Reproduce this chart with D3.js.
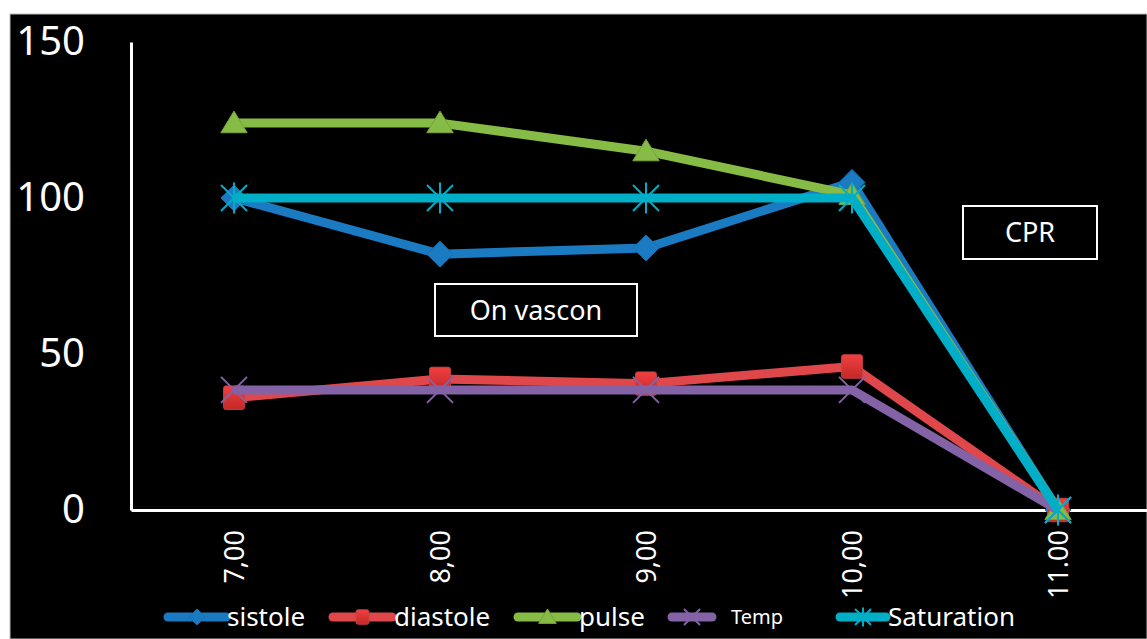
<!DOCTYPE html>
<html>
<head>
<meta charset="utf-8">
<script src="https://cdn.jsdelivr.net/npm/d3@7"></script>
<style>
  body { margin: 0; background: #fff; }
  svg { display: block; }
  text { font-family: "Noto Sans", "Open Sans", sans-serif; fill: #fff; }
</style>
</head>
<body>
<div id="chart"></div>
<script>
// chart data
const times = ["7,00", "8,00", "9,00", "10,00", "11.00"];
const seriesNames = ["sistole", "diastole", "pulse", "Temp", "Saturation"];
const sistole = [100, 82, 84, 105, 0];
const diastole = [36, 42, 40.5, 46, 0];
const pulse = [124, 124, 115, 101, 0];
const temp = [38.5, 38.5, 38.5, 38.5, 0];
const saturation = [100, 100, 100, 100, 0];
const yTicks = [0, 50, 100, 150];
const notes = [
  { label: "On vascon", x0: 435, y0: 284, x1: 637, y1: 336 },
  { label: "CPR", x0: 963, y0: 206, x1: 1097, y1: 259 }
];

const W = 1147, H = 639;
const colors = {
  sistole: "#1b7bc2",
  diastole: "#e0474a",
  pulse: "#86bc45",
  Temp: "#8462a6",
  Saturation: "#00aec8"
};
const markers = {
  sistole: "diamond",
  diastole: "square",
  pulse: "triangle",
  Temp: "x",
  Saturation: "star"
};

const series = [sistole, diastole, pulse, temp, saturation].map((vals, i) => ({
  name: seriesNames[i],
  values: vals.map((v, j) => ({ t: times[j], v: v }))
}));

const svg = d3.select("#chart").append("svg")
  .attr("width", W).attr("height", H);

// black panel with small white margin
svg.append("rect")
  .attr("x", 10).attr("y", 14).attr("width", W - 10).attr("height", H - 14)
  .attr("fill", "#000").attr("stroke", "#bbb").attr("stroke-width", 1);

const x = d3.scalePoint().domain(times).range([131, 1161]).padding(0.5);
const y = d3.scaleLinear().domain([0, 150]).range([510, 42]);

const plot = svg.append("g");

// axes
const yAxis = plot.append("g")
  .attr("transform", "translate(131,0)")
  .call(d3.axisLeft(y).tickValues(yTicks).tickSize(0).tickPadding(46));
yAxis.select(".domain").attr("stroke", "#fff").attr("stroke-width", 3);
yAxis.selectAll("text")
  .attr("font-size", 40).attr("fill", "#fff")
  .attr("font-family", "Noto Sans, sans-serif");

const xAxis = plot.append("g")
  .attr("transform", "translate(0,510)")
  .call(d3.axisBottom(x).tickSize(0));
xAxis.select(".domain").attr("stroke", "#fff").attr("stroke-width", 3);
xAxis.selectAll("text")
  .attr("font-size", 27).attr("fill", "#fff")
  .attr("font-family", "Noto Sans, sans-serif")
  .attr("text-anchor", "end")
  .attr("transform", "rotate(-90)")
  .attr("x", -20).attr("y", 0).attr("dy", "0.35em");

// annotation boxes
notes.forEach(n => {
  plot.append("rect")
    .attr("x", n.x0).attr("y", n.y0)
    .attr("width", n.x1 - n.x0).attr("height", n.y1 - n.y0)
    .attr("fill", "#000").attr("stroke", "#fff").attr("stroke-width", 2);
  plot.append("text")
    .attr("x", (n.x0 + n.x1) / 2).attr("y", (n.y0 + n.y1) / 2)
    .attr("text-anchor", "middle").attr("dy", "0.36em")
    .attr("font-size", 27)
    .text(n.label);
});

// marker drawing
function drawMarker(g, type, color, size) {
  const s = size / 2;
  if (type === "diamond") {
    g.append("path").attr("d", `M0,${-s}L${s},0L0,${s}L${-s},0Z`)
      .attr("fill", color).attr("stroke", d3.color(color).darker(0.3)).attr("stroke-width", 1);
  } else if (type === "square") {
    g.append("rect").attr("x", -s * 0.8).attr("y", -s * 0.9)
      .attr("width", s * 1.6).attr("height", s * 1.8).attr("rx", 2)
      .attr("fill", "url(#sqGrad)").attr("stroke", d3.color(color).darker(0.3)).attr("stroke-width", 1);
  } else if (type === "triangle") {
    g.append("path").attr("d", `M0,${-s}L${s * 1.1},${s * 0.8}L${-s * 1.1},${s * 0.8}Z`)
      .attr("fill", color).attr("stroke", d3.color(color).darker(0.4)).attr("stroke-width", 1);
  } else if (type === "x") {
    g.append("path").attr("d", `M${-s},${-s}L${s},${s}M${s},${-s}L${-s},${s}`)
      .attr("stroke", color).attr("stroke-width", 2);
  } else if (type === "star") {
    g.append("path").attr("d", `M${-s},${-s}L${s},${s}M${s},${-s}L${-s},${s}M0,${-s * 1.2}L0,${s * 1.2}`)
      .attr("stroke", color).attr("stroke-width", 2);
  }
}

const defs = svg.append("defs");
const grad = defs.append("linearGradient").attr("id", "sqGrad")
  .attr("x1", 0).attr("y1", 0).attr("x2", 0).attr("y2", 1);
grad.append("stop").attr("offset", "0%").attr("stop-color", "#f04040");
grad.append("stop").attr("offset", "100%").attr("stop-color", "#c42828");

const line = d3.line().x(d => x(d.t)).y(d => y(d.v));

series.forEach(s => {
  const c = colors[s.name];
  const g = plot.append("g").attr("class", "series");
  g.append("path")
    .datum(s.values)
    .attr("d", line)
    .attr("fill", "none")
    .attr("stroke", c)
    .attr("stroke-width", 9)
    .attr("stroke-linejoin", "round");
  s.values.forEach(d => {
    const m = g.append("g").attr("transform", `translate(${x(d.t)},${y(d.v)})`);
    const sz = markers[s.name] === "triangle" ? 24 : 26;
    drawMarker(m, markers[s.name], c, sz);
  });
});

// legend
const legendItems = [
  { name: "sistole", x: 168, w: 58, fs: 26, gap: 1 },
  { name: "diastole", x: 333, w: 59, fs: 26, gap: 2 },
  { name: "pulse", x: 518, w: 59, fs: 26, gap: 2 },
  { name: "Temp", x: 672, w: 40, fs: 20, gap: 19 },
  { name: "Saturation", x: 840, w: 46, fs: 26, gap: 2 }
];
const legend = svg.append("g").attr("class", "legend");
legendItems.forEach(it => {
  const g = legend.append("g");
  const c = colors[it.name];
  g.append("line")
    .attr("x1", it.x).attr("x2", it.x + it.w)
    .attr("y1", 617).attr("y2", 617)
    .attr("stroke", c).attr("stroke-width", 9).attr("stroke-linecap", "round");
  const m = g.append("g").attr("transform", `translate(${it.x + it.w / 2},617)`);
  drawMarker(m, markers[it.name], c, 16);
  g.append("text")
    .attr("x", it.x + it.w + it.gap)
    .attr("y", 617).attr("dy", "0.35em")
    .attr("font-size", it.fs)
    .text(it.name);
});
</script>
</body>
</html>
